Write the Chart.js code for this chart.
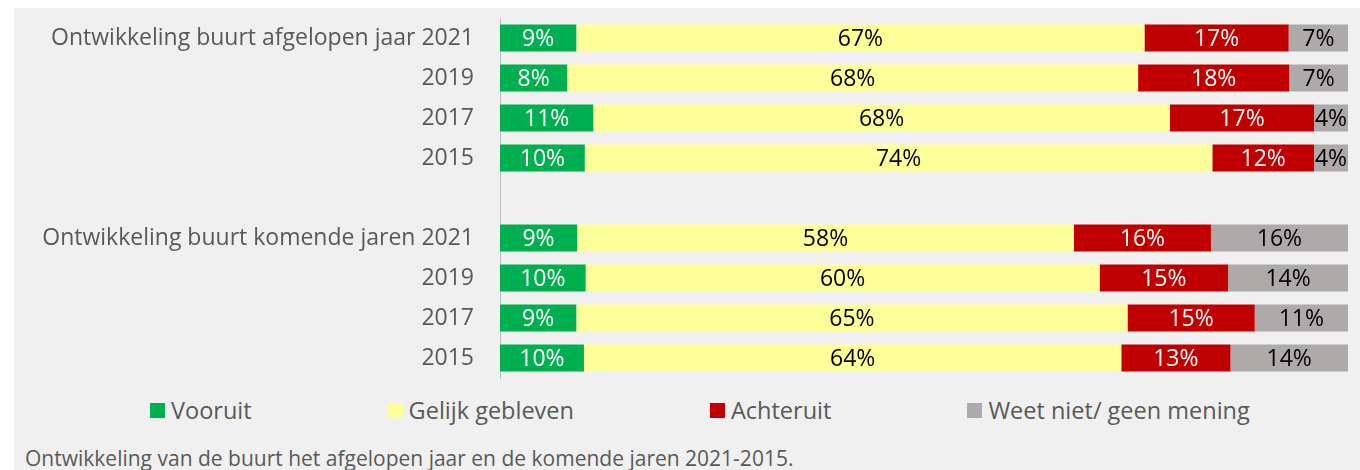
<!DOCTYPE html>
<html>
<head>
<meta charset="utf-8">
<script src="https://cdn.jsdelivr.net/npm/chart.js@4.4.0/dist/chart.umd.min.js"></script>
<style>
    body { margin: 0; background: #ffffff; font-family: "Open Sans", sans-serif; }
    #panel { position: absolute; left: 14px; top: 8px; width: 1346px; height: 462px; background: #f0f0f0; }
    #chart_box { position: absolute; left: 0; top: 0; width: 1346px; height: 372px; }
    #legend { position: absolute; left: 136px; top: 386px; display: flex; align-items: center; gap: 136px; color: #595959; font-size: 23.5px; }
    .item { display: flex; align-items: center; }
    .box { width: 15px; height: 15px; margin-right: 6px; }
    #caption { position: absolute; left: 11px; top: 436px; color: #595959; font-size: 21px; }
</style>
</head>
<body>
<div id="panel">
    <div id="chart_box"><canvas id="buurt_chart"></canvas></div>
    <div id="legend"></div>
    <div id="caption">Ontwikkeling van de buurt het afgelopen jaar en de komende jaren 2021-2015.</div>
</div>
<script>
const categories = ["Ontwikkeling buurt afgelopen jaar 2021", "2019", "2017", "2015", "",
    "Ontwikkeling buurt komende jaren 2021", "2019", "2017", "2015"];
const seriesNames = ["Vooruit", "Gelijk gebleven", "Achteruit", "Weet niet/ geen mening"];
const vooruit = [9, 8, 11, 10, null, 9, 10, 9, 10];
const gelijk = [67, 68, 68, 74, null, 58, 60, 65, 64];
const achteruit = [17, 18, 17, 12, null, 16, 15, 15, 13];
const weetNiet = [7, 7, 4, 4, null, 16, 14, 11, 14];

const seriesColors = ["#00b050", "#ffff99", "#c00000", "#aeaaaa"];
const labelColors = ["#ffffff", "#000000", "#ffffff", "#000000"];

function init() {
    createBuurtChart();
    createLegend();
}

function createBuurtChart() {
    const buurt_chart = document.getElementById("buurt_chart");
    const series = [vooruit, gelijk, achteruit, weetNiet];
    // rows don't add up to exactly 100 because of rounding, so scale each row
    const totals = categories.map((c, i) => series.reduce((s, arr) => s + (arr[i] || 0), 0));

    const datasets = series.map((arr, k) => ({
        label: seriesNames[k],
        data: arr.map((v, i) => v === null ? null : v / totals[i] * 100),
        shown: arr,
        backgroundColor: seriesColors[k],
        borderWidth: 0,
        categoryPercentage: 1,
        barPercentage: 0.675
    }));

    const valueLabels = {
        id: 'valueLabels',
        afterDatasetsDraw(chart) {
            const ctx = chart.ctx;
            ctx.save();
            ctx.font = '23px "Open Sans"';
            ctx.textAlign = 'center';
            ctx.textBaseline = 'middle';
            chart.data.datasets.forEach((ds, k) => {
                chart.getDatasetMeta(k).data.forEach((bar, i) => {
                    if (ds.shown[i] === null) return;
                    const p = bar.getProps(['x', 'y', 'base'], true);
                    ctx.fillStyle = labelColors[k];
                    ctx.fillText(ds.shown[i] + '%', (p.x + p.base) / 2, p.y + 1);
                });
            });
            ctx.restore();
        }
    };

    const buurt_chart_config = {
        type: 'bar',
        data: { labels: categories, datasets: datasets },
        options: {
            indexAxis: 'y',
            responsive: true,
            maintainAspectRatio: false,
            animation: false,
            layout: { padding: { top: 10, bottom: 2, right: 12, left: 0 } },
            scales: {
                x: { stacked: true, min: 0, max: 100, display: false },
                y: {
                    stacked: true,
                    grid: { display: false },
                    border: { display: true, color: '#bfbfbf', width: 1 },
                    ticks: { color: '#595959', font: { family: 'Open Sans', size: 23 }, padding: 18 },
                    afterFit(scale) {
                        scale.width = 486;
                        scale.paddingTop = 0;
                        scale.paddingBottom = 0;
                    }
                }
            },
            plugins: {
                legend: { display: false },
                tooltip: { enabled: false }
            }
        },
        plugins: [valueLabels]
    };

    const myChart = new Chart(buurt_chart, buurt_chart_config);
    return myChart;
}

function createLegend() {
    const legend = document.getElementById("legend");
    seriesNames.forEach((name, k) => {
        const item = document.createElement("div");
        item.className = "item";
        item.innerHTML = '<span class="box" style="background:' + seriesColors[k] + '"></span>' + name;
        legend.appendChild(item);
    });
}

init();
</script>
</body>
</html>
